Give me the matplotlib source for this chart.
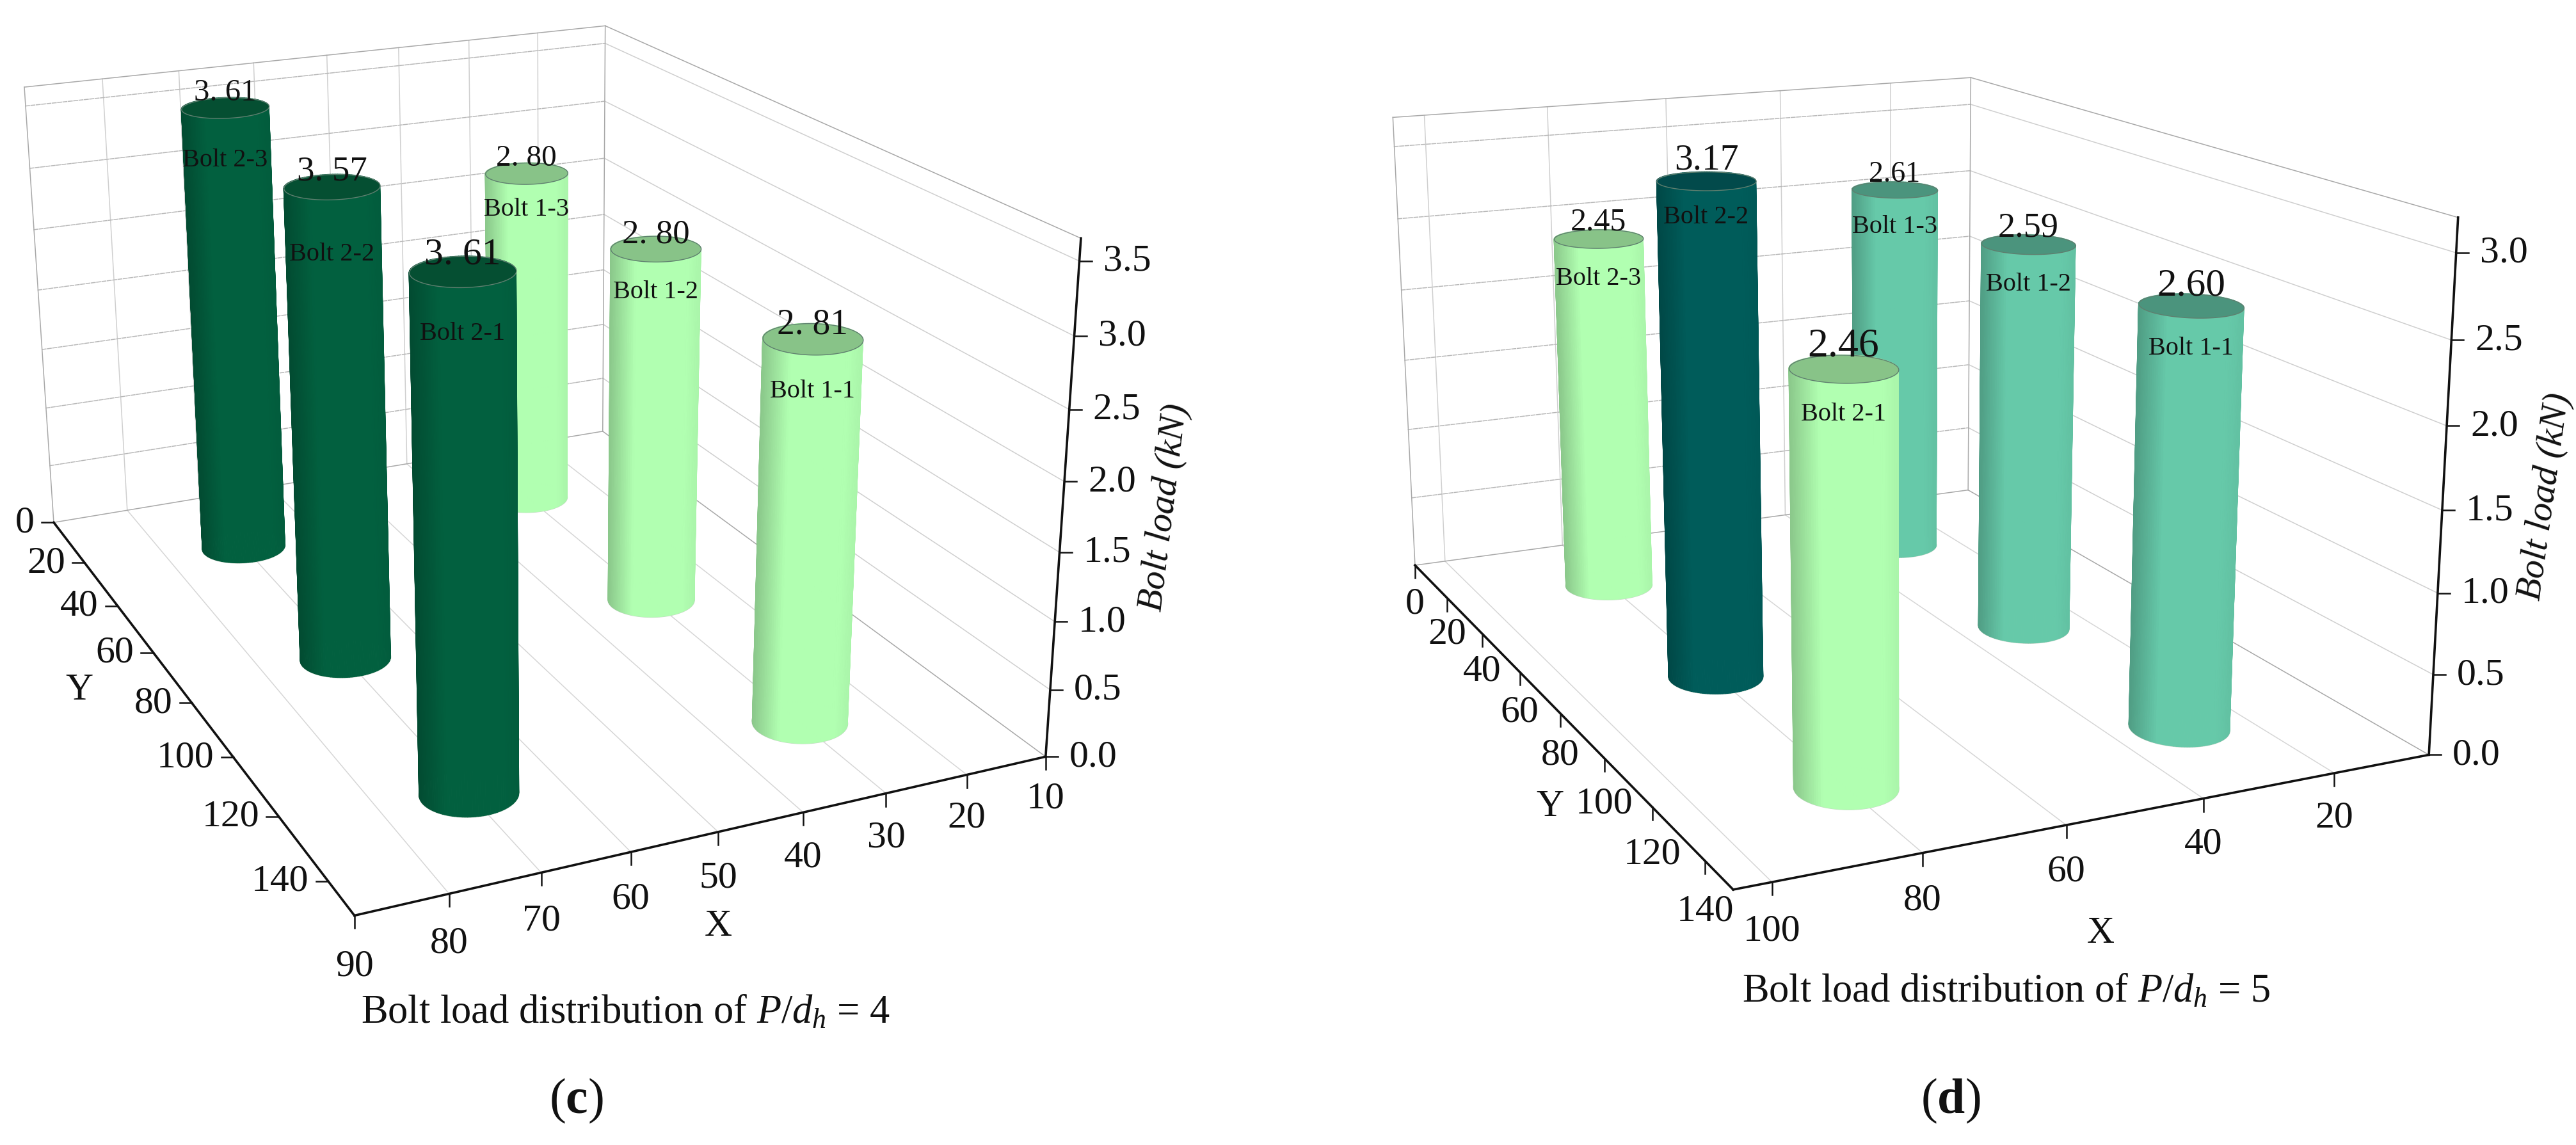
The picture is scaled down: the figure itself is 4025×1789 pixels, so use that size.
import numpy as np
import matplotlib
matplotlib.use("Agg")
import matplotlib.pyplot as plt
from matplotlib.lines import Line2D
from mpl_toolkits.mplot3d.art3d import Poly3DCollection, Line3DCollection

plt.rcParams['font.family'] = ['Liberation Serif', 'DejaVu Serif']
plt.rcParams['mathtext.fontset'] = 'custom'
plt.rcParams['mathtext.rm'] = 'Liberation Serif'
plt.rcParams['mathtext.it'] = 'Liberation Serif:italic'
plt.rcParams['mathtext.bf'] = 'Liberation Serif:bold'

W, H = 4025, 1790
DPI = 100

# ---------- data ----------
bolt_names = ['Bolt 2-3', 'Bolt 2-2', 'Bolt 2-1', 'Bolt 1-3', 'Bolt 1-2', 'Bolt 1-1']

c_x = [70, 70, 70, 30, 30, 30]
c_y = [25, 75, 125, 25, 75, 125]
c_load = [3.61, 3.57, 3.61, 2.80, 2.80, 2.81]
c_text = ['3. 61', '3. 57', '3. 61', '2. 80', '2. 80', '2. 81']

d_x = [80, 80, 80, 30, 30, 30]
d_y = [25, 75, 125, 25, 75, 125]
d_load = [2.45, 3.17, 2.46, 2.61, 2.59, 2.60]
d_text = ['2.45', '3.17', '2.46', '2.61', '2.59', '2.60']

c_xticks = [10, 20, 30, 40, 50, 60, 70, 80, 90]
c_yticks = [0, 20, 40, 60, 80, 100, 120, 140]
c_zticks = [0.0, 0.5, 1.0, 1.5, 2.0, 2.5, 3.0, 3.5]
d_xticks = [20, 40, 60, 80, 100]
d_yticks = [0, 20, 40, 60, 80, 100, 120, 140]
d_zticks = [0.0, 0.5, 1.0, 1.5, 2.0, 2.5, 3.0]

DARK_GREEN, LIGHT_GREEN = '#02603f', '#b1ffb1'
TEAL, DARK_TEAL = '#66c9a9', '#005c5a'
c_colors = [DARK_GREEN, DARK_GREEN, DARK_GREEN, LIGHT_GREEN, LIGHT_GREEN, LIGHT_GREEN]
d_colors = [LIGHT_GREEN, DARK_TEAL, LIGHT_GREEN, TEAL, TEAL, TEAL]
cap_color = {DARK_GREEN: '#054f32', LIGHT_GREEN: '#88c388', TEAL: '#4b947d', DARK_TEAL: '#024a4b'}

# ---------- camera calibration (data point -> figure pixel) ----------
c_cal = [(90,0,0,83,816),(90,150,0,554,1431),(10,150,0,1633,1187),(10,0,0,944,674),
         (10,150,3.65,1690,374),(10,0,3.65,944,43),(90,0,3.65,38,137),
         (90,20,0,131,880),(90,40,0,183,948),(90,60,0,240,1021),(90,80,0,301,1099),
         (90,100,0,367,1185),(90,120,0,436,1278),(90,140,0,513,1377),
         (80,150,0,701,1398),(70,150,0,844,1364),(60,150,0,986,1332),(50,150,0,1120,1301),
         (40,150,0,1256,1271),(30,150,0,1384,1239),(20,150,0,1509,1212),
         (10,150,.5,1641,1079),(10,150,1,1648,970),(10,150,1.5,1656,864),(10,150,2,1663,753),
         (10,150,2.5,1671,639),(10,150,3,1679,525),(10,150,3.5,1687,409)]
d_cal = [(105,0,0,2211,882),(105,150,0,2709,1390),(5,150,0,3795,1179),(5,0,0,3077,765),
         (5,150,3.2,3841,340),(5,0,3.2,3077,123),(105,0,3.2,2178,183),
         (105,20,0,2262,939),(105,40,0,2315,994),(105,60,0,2373,1051),(105,80,0,2438,1116),
         (105,100,0,2506,1185),(105,120,0,2582,1261),(105,140,0,2665,1345),
         (100,150,0,2769,1381),(80,150,0,3003,1333),(60,150,0,3228,1290),(40,150,0,3443,1248),(20,150,0,3647,1208),
         (5,150,.5,3802,1056),(5,150,1,3809,930),(5,150,1.5,3816,799),(5,150,2,3823,668),
         (5,150,2.5,3831,531),(5,150,3,3838,396)]


def fit_camera(cal):
    A = []
    for X, Y, Z, u, v in cal:
        p = [X, Y, Z, 1]
        A.append(p + [0, 0, 0, 0] + [-u * q for q in p])
        A.append([0, 0, 0, 0] + p + [-v * q for q in p])
    A = np.array(A, float)
    s = np.abs(A).max(axis=0)
    _, _, vt = np.linalg.svd(A / s)
    P = (vt[-1] / s).reshape(3, 4)
    c = np.mean(np.array(cal, float)[:, :3], axis=0)
    return P / (P[2] @ np.r_[c, 1])


def project(P, x, y, z):
    q = P @ np.array([x, y, z, 1.0])
    return q[0] / q[2], q[1] / q[2]


def make_axes(P):
    ax = fig.add_axes([0, 0, 1, 1], projection='3d')
    ax.patch.set_visible(False)
    ax.computed_zorder = False
    ax.set_axis_off()
    M = np.vstack([P[0], P[1], [0, 0, 0, -1], P[2]])
    ax.get_proj = lambda: M
    ax.apply_aspect = lambda position=None: None
    return ax


def segs(ax, pts, color, lw, zorder, ls='solid'):
    ax.add_collection3d(Line3DCollection(pts, colors=color, linewidths=lw, linestyles=ls,
                                         zorder=zorder, capstyle='projecting'))


def tick(x, y, dx, dy):
    fig.add_artist(Line2D([x / W, (x + dx) / W], [1 - y / H, 1 - (y + dy) / H],
                          transform=fig.transFigure, color='#111111', lw=1.8))


def cylinder(ax, P, x0, y0, h, rx, ry, color, zo):
    th = np.linspace(0, 2 * np.pi, 121)
    xs = x0 + rx * np.cos(th)
    ys = y0 + ry * np.sin(th)
    base = np.array(matplotlib.colors.to_rgb(color))
    v = P @ np.c_[xs, ys, np.zeros_like(xs), np.ones_like(xs)].T
    u = v[0] / v[2]
    t = (u - u.mean()) / (0.5 * (u.max() - u.min()))
    k = 1 - 0.22 * np.clip((-t - 0.45) / 0.55, 0, 1) - 0.04 * np.clip((t - 0.7) / 0.3, 0, 1)
    fc = np.empty((2, th.size, 4))
    fc[..., :3] = base * k[None, :, None]
    fc[..., 3] = 1
    X = np.vstack([xs, xs])
    Y = np.vstack([ys, ys])
    Z = np.vstack([np.zeros_like(xs), np.full_like(xs, h)])
    segs(ax, [list(zip(xs, ys, 0 * xs))], '#c8d4c8', 1.6, zo - 0.1)
    ax.plot_surface(X, Y, Z, facecolors=fc, rstride=1, cstride=1, shade=False, linewidth=0.8, zorder=zo)
    cap = Poly3DCollection([list(zip(xs, ys, np.full_like(xs, h)))], facecolors=cap_color[color],
                           edgecolors='#5f7f6f', linewidths=1.0, zorder=zo + 0.2)
    ax.add_collection3d(cap)


def ftext(x, y, s, **kw):
    kw.setdefault('color', '#111111')
    kw.setdefault('ha', 'center')
    kw.setdefault('va', 'center')
    return fig.text(x / W, 1 - y / H, s, **kw)


def panel(P, bx, by, load, texts, colors, xt, yt, zt, lims, rx, ry, vsize, vdy, ldy, ytick_vec, ylab_dx, ylab_dy, xlab_dy):
    (x0, x1), (y0, y1), (z0, z1) = lims   # x0: value at the right corner, x1: at the front corner
    ax = make_axes(P)
    GRID = '#cfcfcf'
    EDGE = '#a8a8a8'
    floor = [[(v, y0, 0), (v, y1, 0)] for v in xt if v not in (x0, x1)]
    wall_v = [[(v, y0, 0), (v, y0, z1)] for v in xt if v not in (x0, x1)]
    wall_h = [[(x1, y0, v), (x0, y0, v)] for v in zt[1:]]
    side_h = [[(x0, y0, v), (x0, y1, v)] for v in zt[1:]]
    box = [[(x1, y0, 0), (x0, y0, 0)], [(x0, y0, 0), (x0, y1, 0)],
           [(x1, y0, z1), (x0, y0, z1)], [(x0, y0, z1), (x0, y1, z1)],
           [(x1, y0, 0), (x1, y0, z1)], [(x0, y0, 0), (x0, y0, z1)]]
    segs(ax, floor, '#d6d6d6', 1.1, 1)
    segs(ax, wall_v, GRID, 1.1, 1)
    segs(ax, wall_h, '#b8b8b8', 1.1, 1, ls=(0, (4, 1.5)))
    segs(ax, side_h, GRID, 1.1, 1)
    segs(ax, box, EDGE, 1.1, 2)
    # axis lines
    axes_lines = [[(x1, y0, 0), (x1, y1, 0)], [(x1, y1, 0), (x0, y1, 0)], [(x0, y1, 0), (x0, y1, z1)]]
    segs(ax, axes_lines, '#111111', 2.6, 3)
    # ticks and their labels, screen aligned
    for v, dy in zip(xt, xlab_dy):
        px, py = project(P, v, y1, 0)
        tick(px, py, 0, 20)
        ftext(px, py + dy, str(v), fontsize=43)
    for v, dy in zip(yt, ylab_dy):
        px, py = project(P, x1, v, 0)
        tick(px, py, *ytick_vec)
        ftext(px + ylab_dx, py + dy, str(v), fontsize=43, ha='right' if ylab_dx else 'center')
    for v in zt:
        px, py = project(P, x0, y1, v)
        tick(px, py, 19, 0)
        ftext(px + 37, py, f'{v:.1f}', fontsize=43, ha='left')
    # columns, far to near
    w = [P[2] @ np.array([a, b, 0, 1]) for a, b in zip(bx, by)]
    order = np.argsort(w)[::-1]
    for rank, i in enumerate(order):
        cylinder(ax, P, bx[i], by[i], load[i], rx, ry, colors[i], 10 + rank)
        px, py = project(P, bx[i], by[i], load[i])
        ftext(px, py - vdy[i], texts[i], fontsize=vsize[i])
        ftext(px, py + ldy[i], bolt_names[i], fontsize=29)
    ax.set_xticks(sorted(xt))
    ax.set_yticks(yt)
    ax.set_zticks(zt)
    ax.set_xlim(min(x0, x1), max(x0, x1))
    ax.set_ylim(y0, y1)
    ax.set_zlim(z0, z1)
    ax.viewLim.intervalx = (0, W)
    ax.viewLim.intervaly = (H, 0)
    return ax


fig = plt.figure(figsize=(W / DPI, H / DPI), dpi=DPI, facecolor='white')
Pc = fit_camera(c_cal)
Pd = fit_camera(d_cal)

panel(Pc, c_x, c_y, c_load, c_text, c_colors,
      c_xticks, c_yticks, c_zticks, ((10, 90), (0, 150), (0, 3.65)), 5.3, 7.0,
      [35, 39.5, 43, 34, 38, 40], [24, 24, 26, 24, 23, 23], [81, 105, 97, 56, 67, 81],
      (-19, 0), -30, [0] * 8, list(np.linspace(65, 79, 9)))
panel(Pd, d_x, d_y, d_load, d_text, d_colors,
      d_xticks, d_yticks, d_zticks, ((5, 105), (0, 150), (0, 3.2)), 6.7, 8.0,
      [36, 41.5, 46, 33, 39, 44], [26, 33, 35, 24, 26, 32], [62, 56, 71, 57, 62, 66],
      (0, 20), 0, [60, 56, 58, 63, 65, 71, 73, 78], [70, 71, 72, 74, 76])

ftext(124, 1079, 'Y', fontsize=43)
ftext(1122, 1448, 'X', fontsize=43)
ftext(2422, 1261, 'Y', fontsize=43)
ftext(3282, 1459, 'X', fontsize=43)
ftext(1820, 793, 'Bolt load (kN)', fontsize=41, style='italic', rotation=83, rotation_mode='anchor')
ftext(3977, 776, 'Bolt load (kN)', fontsize=41, style='italic', rotation=82, rotation_mode='anchor')
ftext(977, 1583, r'Bolt load distribution of $\mathit{P/d_h}$ = 4', fontsize=45)
ftext(3135, 1550, r'Bolt load distribution of $\mathit{P/d_h}$ = 5', fontsize=45)
ftext(900, 1720, r'($\mathbf{c}$)', fontsize=56)
ftext(3048, 1720, r'($\mathbf{d}$)', fontsize=56)

fig.savefig('out.png', dpi=DPI)
